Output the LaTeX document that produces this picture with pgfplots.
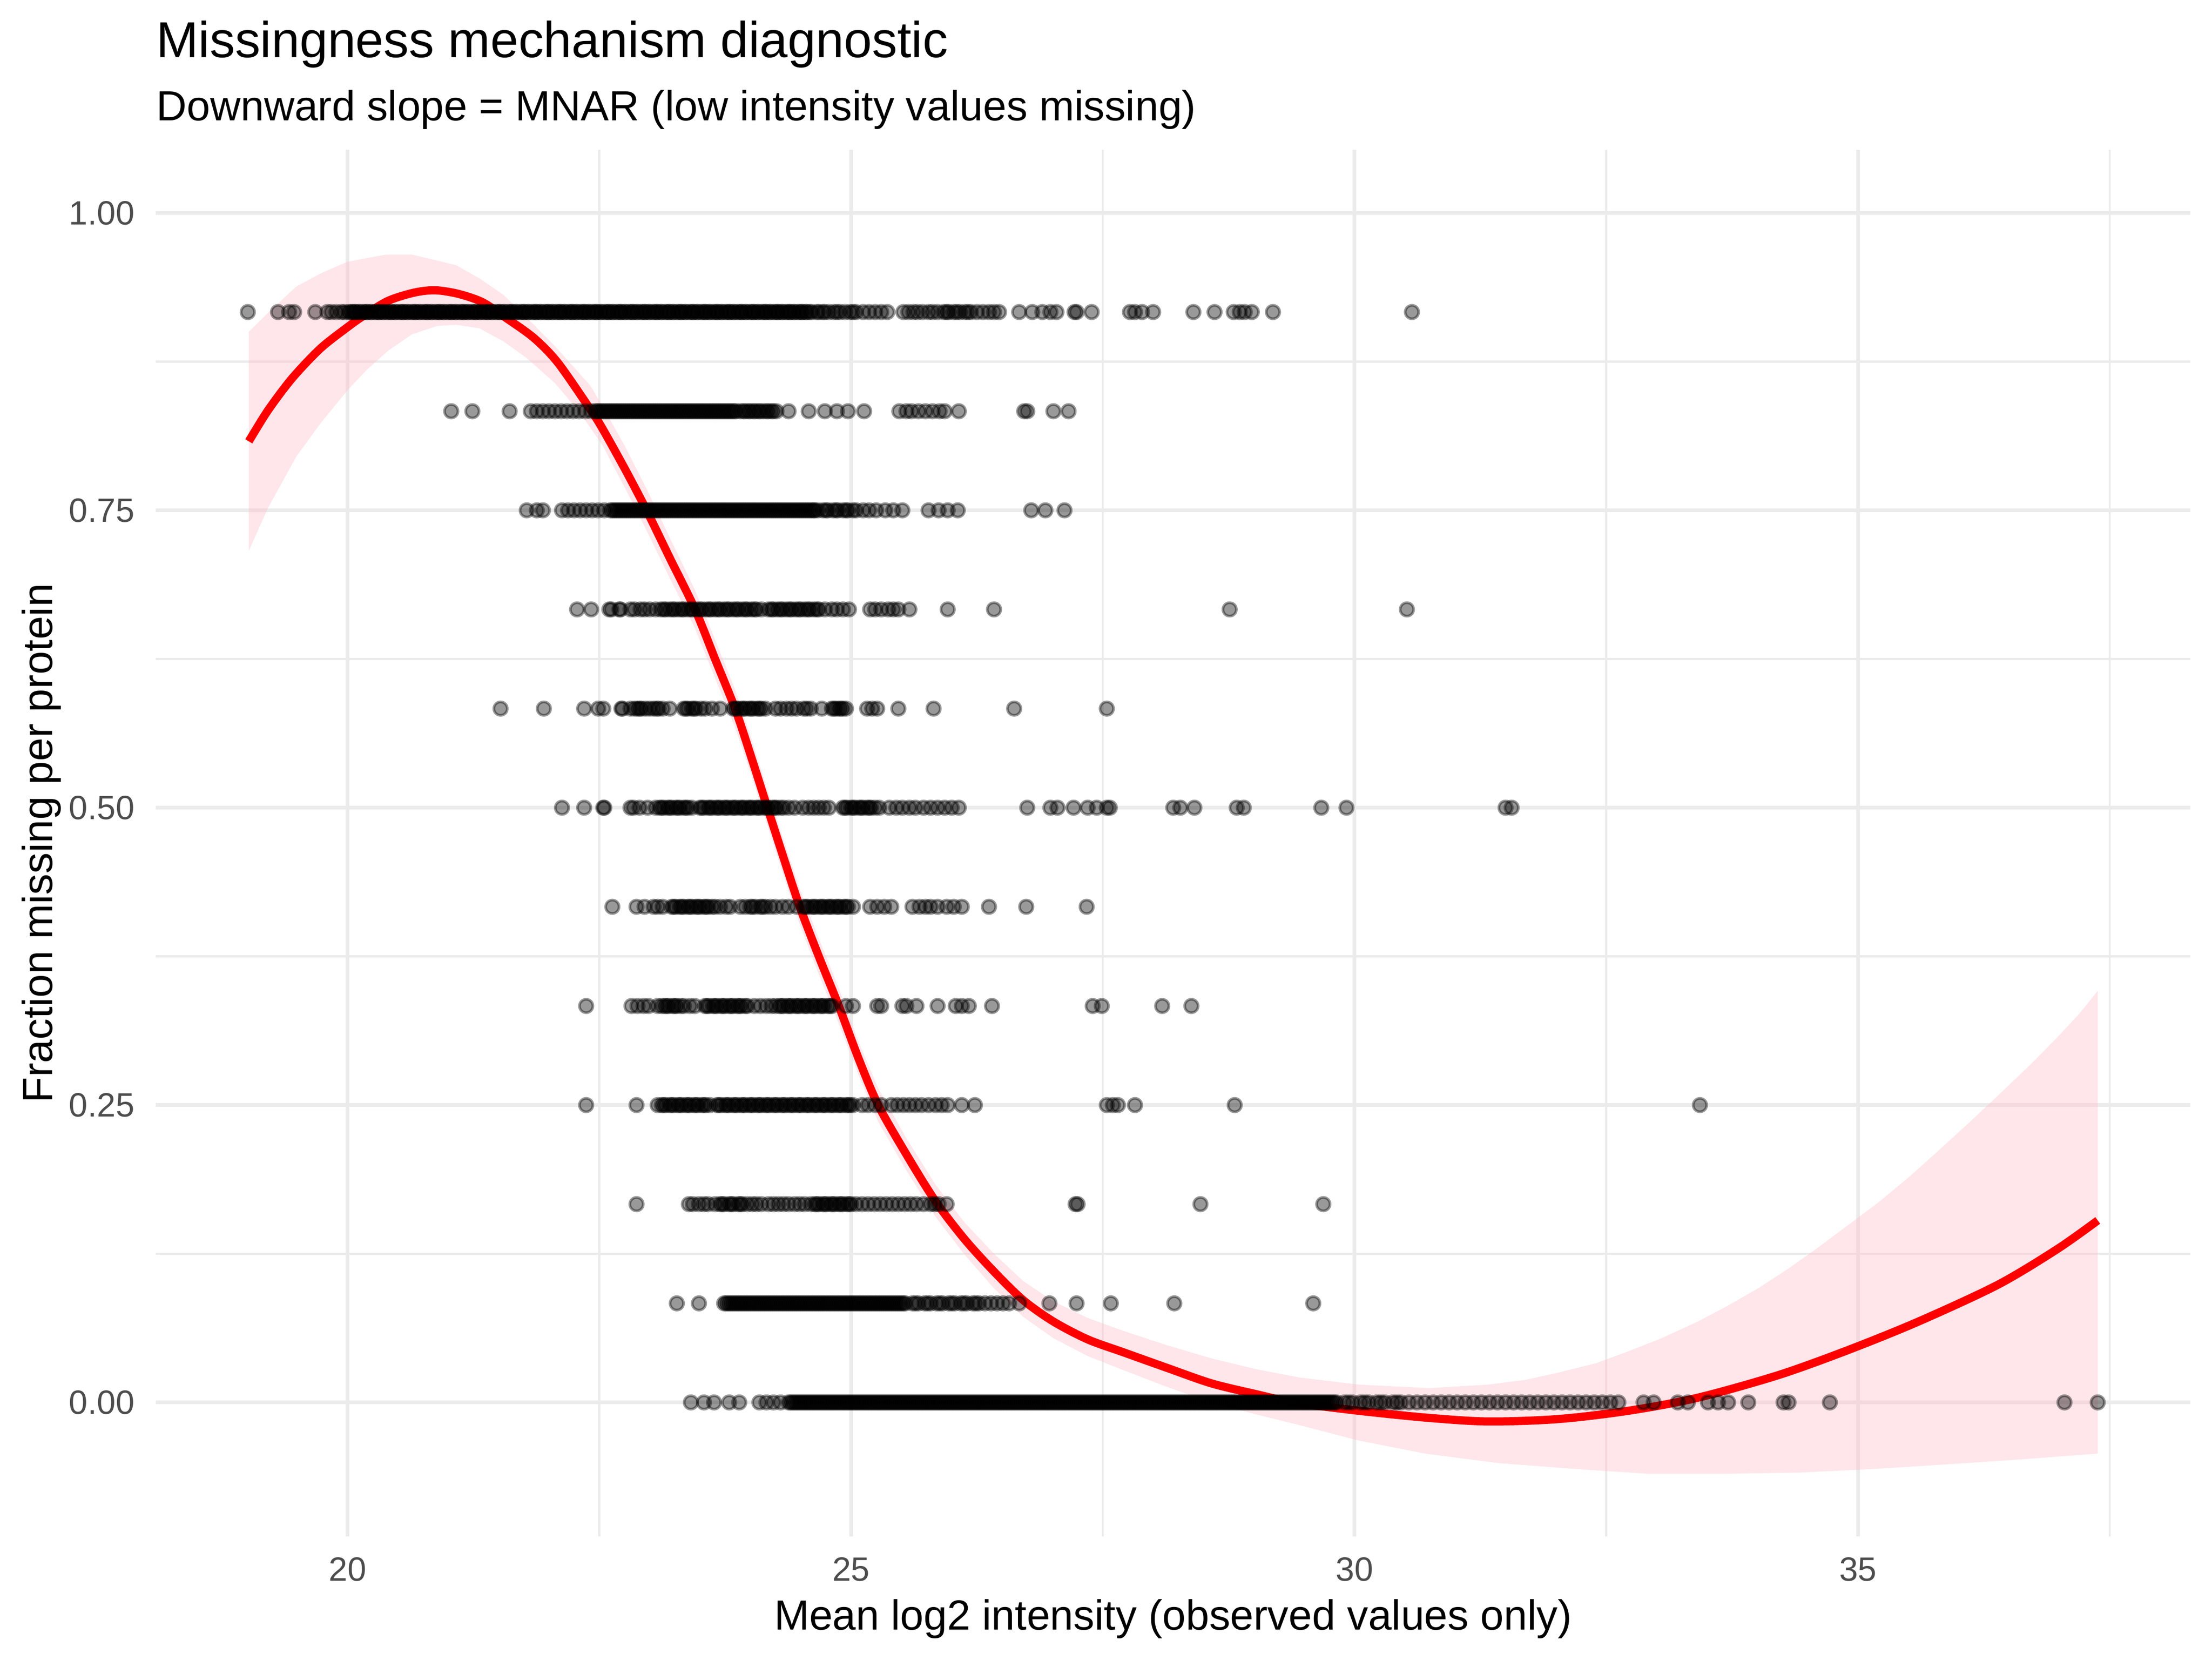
\documentclass[border=0pt]{standalone}
\usepackage{pgfplots}
\pgfplotsset{compat=1.18}
\usepackage{fontspec}
\setmainfont{Liberation Sans}
\definecolor{gridc}{RGB}{235,235,235}
\definecolor{tickc}{RGB}{77,77,77}
\definecolor{ribpink}{RGB}{255,192,203}
\pgfplotsset{pts/.style={only marks, mark=*, mark size=1.75bp,
  mark options={draw=black, fill=black, line width=0.7bp, draw opacity=0.4, fill opacity=0.4}}}
\begin{document}
\begin{tikzpicture}
\path[use as bounding box] (0,0) rectangle (576bp,432bp);
\begin{axis}[
  at={(40.56bp,32bp)}, anchor=south west,
  scale only axis, width=529.8bp, height=361bp,
  xmin=18.096, xmax=38.30, ymin=-0.1128, ymax=1.0531,
  axis line style={draw=none}, tick style={draw=none},
  major tick length=0pt, minor tick length=0pt,
  xtick={20,25,30,35}, xticklabels={20,25,30,35},
  minor xtick={22.5,27.5,32.5,37.5},
  ytick={0,0.25,0.5,0.75,1}, yticklabels={0.00,0.25,0.50,0.75,1.00},
  minor ytick={0.125,0.375,0.625,0.875},
  grid=both,
  major grid style={color=gridc, line width=1.0bp},
  minor grid style={color=gridc, line width=0.53bp},
  xticklabel style={anchor=north, inner sep=0pt, yshift=-5.2bp, font=\fontsize{8.8}{10}\selectfont, text=tickc},
  yticklabel style={anchor=east, inner sep=0pt, xshift=-5.3bp, font=\fontsize{8.8}{10}\selectfont, text=tickc},
]
% row 11/12
\addplot[pts] coordinates {(19.01,0.9167)(19.31,0.9167)(19.42,0.9167)(19.47,0.9167)(19.68,0.9167)(19.80,0.9167)(19.84,0.9167)(19.89,0.9167)(19.94,0.9167)(19.97,0.9167)
(20.01,0.9167)(20.05,0.9167)(20.08,0.9167)(20.12,0.9167)(20.17,0.9167)(20.20,0.9167)(20.24,0.9167)(20.29,0.9167)(20.32,0.9167)(20.36,0.9167)(20.41,0.9167)(20.44,0.9167)(20.48,0.9167)(20.53,0.9167)(20.56,0.9167)(20.60,0.9167)(20.65,0.9167)(20.68,0.9167)(20.72,0.9167)(20.77,0.9167)(20.80,0.9167)(20.84,0.9167)(20.89,0.9167)(20.92,0.9167)(20.96,0.9167)
(21.01,0.9167)(21.04,0.9167)(21.08,0.9167)(21.13,0.9167)(21.16,0.9167)(21.20,0.9167)(21.25,0.9167)(21.28,0.9167)(21.32,0.9167)(21.37,0.9167)(21.40,0.9167)(21.44,0.9167)(21.49,0.9167)(21.52,0.9167)(21.56,0.9167)(21.61,0.9167)(21.64,0.9167)(21.68,0.9167)(21.73,0.9167)(21.76,0.9167)(21.80,0.9167)(21.85,0.9167)(21.88,0.9167)(21.92,0.9167)(21.97,0.9167)
(22.00,0.9167)(22.04,0.9167)(22.09,0.9167)(22.12,0.9167)(22.16,0.9167)(22.21,0.9167)(22.24,0.9167)(22.28,0.9167)(22.33,0.9167)(22.36,0.9167)(22.40,0.9167)(22.45,0.9167)(22.48,0.9167)(22.52,0.9167)(22.57,0.9167)(22.60,0.9167)(22.64,0.9167)(22.69,0.9167)(22.72,0.9167)(22.76,0.9167)(22.81,0.9167)(22.84,0.9167)(22.88,0.9167)(22.93,0.9167)(22.96,0.9167)
(23.00,0.9167)(23.05,0.9167)(23.08,0.9167)(23.12,0.9167)(23.17,0.9167)(23.20,0.9167)(23.24,0.9167)(23.29,0.9167)(23.32,0.9167)(23.36,0.9167)(23.41,0.9167)(23.44,0.9167)(23.48,0.9167)(23.53,0.9167)(23.56,0.9167)(23.60,0.9167)(23.65,0.9167)(23.68,0.9167)(23.72,0.9167)(23.77,0.9167)(23.80,0.9167)(23.84,0.9167)(23.89,0.9167)(23.92,0.9167)(23.96,0.9167)
(24.01,0.9167)(24.04,0.9167)(24.08,0.9167)(24.13,0.9167)(24.16,0.9167)(24.20,0.9167)(24.25,0.9167)(24.28,0.9167)(24.32,0.9167)(24.37,0.9167)(24.40,0.9167)(24.44,0.9167)(24.49,0.9167)(24.52,0.9167)(24.56,0.9167)(24.61,0.9167)
(24.68,0.9167)(24.74,0.9167)(24.78,0.9167)(24.83,0.9167)(24.89,0.9167)(24.94,0.9167)(24.99,0.9167)(25.05,0.9167)(25.12,0.9167)(25.18,0.9167)(25.24,0.9167)(25.30,0.9167)(25.36,0.9167)
(25.52,0.9167)(25.57,0.9167)(25.62,0.9167)(25.66,0.9167)(25.71,0.9167)(25.77,0.9167)(25.81,0.9167)(25.86,0.9167)(25.92,0.9167)(25.97,0.9167)(26.02,0.9167)(26.08,0.9167)(26.13,0.9167)(26.19,0.9167)(26.25,0.9167)(26.31,0.9167)(26.37,0.9167)(26.42,0.9167)(26.47,0.9167)
(26.67,0.9167)(26.80,0.9167)(26.90,0.9167)(26.98,0.9167)(27.04,0.9167)(27.22,0.9167)(27.24,0.9167)(27.39,0.9167)(27.77,0.9167)(27.82,0.9167)(27.89,0.9167)(28.00,0.9167)(28.40,0.9167)(28.61,0.9167)(28.80,0.9167)(28.86,0.9167)(28.91,0.9167)(28.98,0.9167)(29.19,0.9167)(30.57,0.9167)};
\addplot[pts] coordinates {(20.03,0.9167)(20.07,0.9167)(20.11,0.9167)(20.15,0.9167)(20.19,0.9167)(20.23,0.9167)(20.27,0.9167)(20.31,0.9167)(20.35,0.9167)(20.39,0.9167)(20.43,0.9167)(20.47,0.9167)(20.51,0.9167)(20.55,0.9167)(20.59,0.9167)(20.63,0.9167)(20.67,0.9167)(20.71,0.9167)(20.75,0.9167)(20.79,0.9167)(20.83,0.9167)(20.87,0.9167)(20.91,0.9167)(20.95,0.9167)(20.99,0.9167)
(21.03,0.9167)(21.07,0.9167)(21.11,0.9167)(21.15,0.9167)(21.19,0.9167)(21.23,0.9167)(21.27,0.9167)(21.31,0.9167)(21.35,0.9167)(21.39,0.9167)(21.43,0.9167)(21.47,0.9167)(21.51,0.9167)(21.55,0.9167)(21.59,0.9167)(21.63,0.9167)(21.67,0.9167)(21.71,0.9167)(21.75,0.9167)(21.79,0.9167)(21.83,0.9167)(21.87,0.9167)(21.91,0.9167)(21.95,0.9167)(21.99,0.9167)
(22.03,0.9167)(22.07,0.9167)(22.11,0.9167)(22.15,0.9167)(22.19,0.9167)(22.23,0.9167)(22.27,0.9167)(22.31,0.9167)(22.35,0.9167)(22.39,0.9167)(22.43,0.9167)(22.47,0.9167)(22.51,0.9167)(22.55,0.9167)(22.59,0.9167)(22.63,0.9167)(22.67,0.9167)(22.71,0.9167)(22.75,0.9167)(22.79,0.9167)(22.83,0.9167)(22.87,0.9167)(22.91,0.9167)(22.95,0.9167)(22.99,0.9167)
(23.03,0.9167)(23.07,0.9167)(23.11,0.9167)(23.15,0.9167)(23.19,0.9167)(23.23,0.9167)(23.27,0.9167)(23.31,0.9167)(23.35,0.9167)(23.39,0.9167)(23.43,0.9167)(23.47,0.9167)(23.51,0.9167)(23.55,0.9167)(23.59,0.9167)(23.63,0.9167)(23.67,0.9167)(23.71,0.9167)(23.75,0.9167)(23.79,0.9167)(23.83,0.9167)(23.87,0.9167)(23.91,0.9167)(23.95,0.9167)(23.99,0.9167)
(24.03,0.9167)(24.07,0.9167)(24.11,0.9167)(24.15,0.9167)(24.19,0.9167)(24.23,0.9167)(24.27,0.9167)(24.31,0.9167)(24.35,0.9167)(24.39,0.9167)(24.43,0.9167)(24.47,0.9167)(24.51,0.9167)(24.55,0.9167)(24.59,0.9167)(24.66,0.9167)(24.72,0.9167)(24.86,0.9167)(25.02,0.9167)(25.95,0.9167)(26.05,0.9167)(26.16,0.9167)};
% row 10/12
\addplot[pts] coordinates {(21.03,0.8333)(21.24,0.8333)(21.61,0.8333)(21.82,0.8333)(21.88,0.8333)(21.94,0.8333)(22.00,0.8333)(22.06,0.8333)(22.12,0.8333)(22.18,0.8333)(22.24,0.8333)(22.30,0.8333)(22.36,0.8333)(22.42,0.8333)
(22.46,0.8333)(22.50,0.8333)(22.54,0.8333)(22.58,0.8333)(22.62,0.8333)(22.66,0.8333)(22.70,0.8333)(22.74,0.8333)(22.78,0.8333)(22.82,0.8333)(22.86,0.8333)(22.90,0.8333)(22.94,0.8333)(22.98,0.8333)(23.02,0.8333)(23.06,0.8333)(23.10,0.8333)(23.14,0.8333)(23.18,0.8333)(23.22,0.8333)(23.26,0.8333)(23.30,0.8333)(23.34,0.8333)(23.38,0.8333)(23.42,0.8333)(23.46,0.8333)(23.50,0.8333)(23.54,0.8333)(23.58,0.8333)(23.62,0.8333)(23.66,0.8333)(23.70,0.8333)(23.74,0.8333)(23.78,0.8333)(23.82,0.8333)(23.86,0.8333)
(23.90,0.8333)(23.95,0.8333)(24.00,0.8333)(24.05,0.8333)(24.10,0.8333)(24.16,0.8333)(24.21,0.8333)(24.26,0.8333)(24.38,0.8333)(24.58,0.8333)(24.74,0.8333)(24.86,0.8333)(24.97,0.8333)(25.13,0.8333)
(25.48,0.8333)(25.55,0.8333)(25.60,0.8333)(25.67,0.8333)(25.74,0.8333)(25.81,0.8333)(25.88,0.8333)(25.93,0.8333)(26.07,0.8333)(26.72,0.8333)(26.75,0.8333)(27.01,0.8333)(27.16,0.8333)};
\addplot[pts] coordinates {(22.48,0.8333)(22.52,0.8333)(22.56,0.8333)(22.60,0.8333)(22.64,0.8333)(22.68,0.8333)(22.72,0.8333)(22.76,0.8333)(22.80,0.8333)(22.84,0.8333)(22.88,0.8333)(22.92,0.8333)(22.96,0.8333)(23.00,0.8333)(23.04,0.8333)(23.08,0.8333)(23.12,0.8333)(23.16,0.8333)(23.20,0.8333)(23.24,0.8333)(23.28,0.8333)(23.32,0.8333)(23.36,0.8333)(23.40,0.8333)(23.44,0.8333)(23.48,0.8333)(23.52,0.8333)(23.56,0.8333)(23.60,0.8333)(23.64,0.8333)(23.68,0.8333)(23.72,0.8333)(23.76,0.8333)(23.80,0.8333)(23.84,0.8333)(23.93,0.8333)(23.98,0.8333)(24.03,0.8333)(24.08,0.8333)(24.13,0.8333)(24.18,0.8333)(24.23,0.8333)};
% row 9/12
\addplot[pts] coordinates {(21.78,0.75)(21.88,0.75)(21.94,0.75)(22.13,0.75)(22.19,0.75)(22.25,0.75)(22.31,0.75)(22.37,0.75)(22.43,0.75)(22.49,0.75)(22.55,0.75)
(22.61,0.75)(22.65,0.75)(22.69,0.75)(22.73,0.75)(22.77,0.75)(22.81,0.75)(22.85,0.75)(22.89,0.75)(22.93,0.75)(22.97,0.75)(23.01,0.75)(23.05,0.75)(23.09,0.75)(23.13,0.75)(23.17,0.75)(23.21,0.75)(23.25,0.75)(23.29,0.75)(23.33,0.75)(23.37,0.75)(23.41,0.75)(23.45,0.75)(23.49,0.75)(23.53,0.75)(23.57,0.75)(23.61,0.75)(23.65,0.75)(23.69,0.75)(23.73,0.75)(23.77,0.75)(23.81,0.75)(23.85,0.75)(23.89,0.75)(23.93,0.75)(23.97,0.75)
(24.01,0.75)(24.05,0.75)(24.09,0.75)(24.13,0.75)(24.17,0.75)(24.21,0.75)(24.25,0.75)(24.29,0.75)(24.33,0.75)(24.37,0.75)(24.41,0.75)(24.45,0.75)(24.49,0.75)(24.53,0.75)(24.57,0.75)(24.61,0.75)(24.64,0.75)
(24.67,0.75)(24.72,0.75)(24.77,0.75)(24.82,0.75)(24.87,0.75)(24.92,0.75)(24.97,0.75)(25.02,0.75)(25.05,0.75)(25.12,0.75)(25.18,0.75)(25.25,0.75)(25.34,0.75)(25.42,0.75)(25.51,0.75)
(25.77,0.75)(25.87,0.75)(25.96,0.75)(26.06,0.75)(26.79,0.75)(26.93,0.75)(27.12,0.75)};
\addplot[pts] coordinates {(22.63,0.75)(22.67,0.75)(22.71,0.75)(22.75,0.75)(22.79,0.75)(22.83,0.75)(22.87,0.75)(22.91,0.75)(22.95,0.75)(22.99,0.75)(23.03,0.75)(23.07,0.75)(23.11,0.75)(23.15,0.75)(23.19,0.75)(23.23,0.75)(23.27,0.75)(23.31,0.75)(23.35,0.75)(23.39,0.75)(23.43,0.75)(23.47,0.75)(23.51,0.75)(23.55,0.75)(23.59,0.75)(23.63,0.75)(23.67,0.75)(23.71,0.75)(23.75,0.75)(23.79,0.75)(23.83,0.75)(23.87,0.75)(23.91,0.75)(23.95,0.75)(23.99,0.75)
(24.03,0.75)(24.07,0.75)(24.11,0.75)(24.15,0.75)(24.19,0.75)(24.23,0.75)(24.27,0.75)(24.31,0.75)(24.35,0.75)(24.39,0.75)(24.43,0.75)(24.47,0.75)(24.51,0.75)(24.55,0.75)(24.59,0.75)(24.63,0.75)(24.75,0.75)(24.85,0.75)(24.95,0.75)};
% row 8/12
\addplot[pts] coordinates {(22.28,0.6667)(22.42,0.6667)(22.60,0.6667)(22.62,0.6667)(22.70,0.6667)(22.71,0.6667)(22.81,0.6667)(22.85,0.6667)(22.91,0.6667)(22.95,0.6667)(23.00,0.6667)(23.06,0.6667)
(23.11,0.6667)(23.16,0.6667)(23.20,0.6667)(23.25,0.6667)(23.29,0.6667)(23.34,0.6667)(23.38,0.6667)(23.43,0.6667)(23.47,0.6667)(23.52,0.6667)(23.56,0.6667)(23.61,0.6667)(23.65,0.6667)(23.70,0.6667)(23.74,0.6667)(23.79,0.6667)(23.83,0.6667)(23.88,0.6667)(23.92,0.6667)(23.97,0.6667)(24.01,0.6667)(24.06,0.6667)(24.11,0.6667)
(24.18,0.6667)(24.23,0.6667)(24.27,0.6667)(24.32,0.6667)(24.36,0.6667)(24.41,0.6667)(24.45,0.6667)(24.50,0.6667)(24.54,0.6667)(24.59,0.6667)(24.63,0.6667)(24.68,0.6667)(24.74,0.6667)
(24.81,0.6667)(24.86,0.6667)(24.92,0.6667)(24.98,0.6667)(25.19,0.6667)(25.24,0.6667)(25.30,0.6667)(25.37,0.6667)(25.42,0.6667)(25.47,0.6667)(25.58,0.6667)(25.96,0.6667)(26.42,0.6667)(28.76,0.6667)(30.52,0.6667)
(23.14,0.6667)(23.23,0.6667)(23.32,0.6667)(23.41,0.6667)(23.50,0.6667)(23.59,0.6667)(23.68,0.6667)(23.77,0.6667)(23.86,0.6667)(23.95,0.6667)(24.04,0.6667)(24.21,0.6667)(24.30,0.6667)(24.39,0.6667)(24.48,0.6667)(24.57,0.6667)(24.66,0.6667)};
% row 7/12
\addplot[pts] coordinates {(21.52,0.5833)(21.95,0.5833)(22.35,0.5833)(22.49,0.5833)(22.54,0.5833)(22.72,0.5833)(22.73,0.5833)(22.81,0.5833)(22.85,0.5833)(22.88,0.5833)(22.92,0.5833)(22.96,0.5833)(23.00,0.5833)(23.04,0.5833)(23.09,0.5833)(23.13,0.5833)(23.20,0.5833)
(23.34,0.5833)(23.38,0.5833)(23.42,0.5833)(23.46,0.5833)(23.51,0.5833)(23.55,0.5833)(23.62,0.5833)(23.70,0.5833)(23.83,0.5833)(23.87,0.5833)(23.91,0.5833)(23.95,0.5833)(23.99,0.5833)(24.03,0.5833)(24.07,0.5833)(24.11,0.5833)(24.15,0.5833)
(24.25,0.5833)(24.30,0.5833)(24.36,0.5833)(24.41,0.5833)(24.46,0.5833)(24.53,0.5833)(24.56,0.5833)(24.60,0.5833)(24.71,0.5833)(24.81,0.5833)(24.85,0.5833)(24.88,0.5833)(24.92,0.5833)(24.95,0.5833)
(25.16,0.5833)(25.21,0.5833)(25.26,0.5833)(25.47,0.5833)(25.82,0.5833)(26.62,0.5833)(27.54,0.5833)
(22.90,0.5833)(23.07,0.5833)(23.36,0.5833)(23.44,0.5833)(23.85,0.5833)(23.93,0.5833)(24.01,0.5833)(24.09,0.5833)(24.83,0.5833)(24.90,0.5833)};
% row 6/12
\addplot[pts] coordinates {(22.13,0.5)(22.35,0.5)(22.54,0.5)(22.55,0.5)(22.81,0.5)(22.84,0.5)(22.90,0.5)(22.98,0.5)
(23.06,0.5)(23.10,0.5)(23.14,0.5)(23.18,0.5)(23.22,0.5)(23.26,0.5)(23.30,0.5)(23.34,0.5)(23.38,0.5)(23.42,0.5)
(23.50,0.5)(23.54,0.5)(23.58,0.5)(23.62,0.5)(23.66,0.5)(23.70,0.5)(23.74,0.5)(23.78,0.5)(23.82,0.5)(23.86,0.5)(23.90,0.5)(23.94,0.5)(23.98,0.5)(24.02,0.5)(24.06,0.5)(24.10,0.5)(24.14,0.5)(24.18,0.5)(24.22,0.5)(24.26,0.5)(24.30,0.5)
(24.33,0.5)(24.38,0.5)(24.44,0.5)(24.52,0.5)(24.58,0.5)(24.63,0.5)(24.68,0.5)(24.73,0.5)(24.78,0.5)
(24.92,0.5)(24.96,0.5)(25.00,0.5)(25.04,0.5)(25.08,0.5)(25.12,0.5)(25.16,0.5)(25.20,0.5)(25.24,0.5)(25.28,0.5)
(25.38,0.5)(25.45,0.5)(25.51,0.5)(25.58,0.5)(25.64,0.5)(25.72,0.5)(25.79,0.5)(25.86,0.5)(25.93,0.5)(26.00,0.5)(26.07,0.5)
(26.75,0.5)(26.98,0.5)(27.05,0.5)(27.21,0.5)(27.35,0.5)(27.44,0.5)(27.54,0.5)(27.57,0.5)(28.20,0.5)(28.27,0.5)(28.41,0.5)(28.83,0.5)(28.90,0.5)(29.67,0.5)(29.92,0.5)(31.50,0.5)(31.56,0.5)
(23.12,0.5)(23.20,0.5)(23.28,0.5)(23.36,0.5)(23.52,0.5)(23.60,0.5)(23.68,0.5)(23.76,0.5)(23.84,0.5)(23.92,0.5)(24.00,0.5)(24.08,0.5)(24.16,0.5)(24.24,0.5)(24.94,0.5)(25.02,0.5)(25.10,0.5)(25.18,0.5)};
% row 5/12
\addplot[pts] coordinates {(22.63,0.4167)(22.87,0.4167)(22.95,0.4167)(23.04,0.4167)(23.08,0.4167)(23.13,0.4167)
(23.22,0.4167)(23.26,0.4167)(23.30,0.4167)(23.34,0.4167)(23.38,0.4167)(23.42,0.4167)(23.46,0.4167)(23.50,0.4167)(23.54,0.4167)(23.58,0.4167)(23.62,0.4167)(23.65,0.4167)
(23.70,0.4167)(23.76,0.4167)(23.80,0.4167)(23.90,0.4167)(23.95,0.4167)(24.00,0.4167)(24.05,0.4167)(24.10,0.4167)(24.15,0.4167)(24.20,0.4167)(24.25,0.4167)(24.32,0.4167)(24.38,0.4167)(24.46,0.4167)
(24.53,0.4167)(24.57,0.4167)(24.61,0.4167)(24.65,0.4167)(24.69,0.4167)(24.73,0.4167)(24.77,0.4167)(24.81,0.4167)(24.85,0.4167)(24.89,0.4167)(24.93,0.4167)(24.97,0.4167)(25.02,0.4167)
(25.19,0.4167)(25.26,0.4167)(25.33,0.4167)(25.40,0.4167)(25.61,0.4167)(25.68,0.4167)(25.74,0.4167)(25.79,0.4167)(25.86,0.4167)(25.95,0.4167)(26.02,0.4167)(26.10,0.4167)(26.37,0.4167)(26.74,0.4167)(27.34,0.4167)
(23.24,0.4167)(23.32,0.4167)(23.40,0.4167)(23.48,0.4167)(23.56,0.4167)(24.02,0.4167)(24.12,0.4167)(24.55,0.4167)(24.63,0.4167)(24.71,0.4167)(24.79,0.4167)(24.87,0.4167)(24.95,0.4167)};
% row 4/12
\addplot[pts] coordinates {(22.37,0.3333)(22.82,0.3333)(22.88,0.3333)(22.94,0.3333)(22.99,0.3333)(23.08,0.3333)(23.12,0.3333)(23.15,0.3333)(23.19,0.3333)(23.23,0.3333)(23.27,0.3333)(23.31,0.3333)(23.34,0.3333)(23.40,0.3333)(23.45,0.3333)
(23.55,0.3333)(23.59,0.3333)(23.63,0.3333)(23.67,0.3333)(23.71,0.3333)(23.75,0.3333)(23.79,0.3333)(23.83,0.3333)(23.87,0.3333)(23.91,0.3333)(23.95,0.3333)(23.97,0.3333)
(24.04,0.3333)(24.10,0.3333)(24.16,0.3333)(24.21,0.3333)(24.25,0.3333)(24.29,0.3333)(24.33,0.3333)(24.37,0.3333)(24.41,0.3333)(24.45,0.3333)(24.49,0.3333)(24.53,0.3333)(24.57,0.3333)(24.61,0.3333)(24.65,0.3333)(24.69,0.3333)(24.73,0.3333)(24.77,0.3333)(24.81,0.3333)
(24.95,0.3333)(25.02,0.3333)(25.26,0.3333)(25.30,0.3333)(25.51,0.3333)(25.55,0.3333)(25.65,0.3333)(25.86,0.3333)(26.04,0.3333)(26.10,0.3333)(26.17,0.3333)(26.40,0.3333)(27.40,0.3333)(27.49,0.3333)(28.09,0.3333)(28.38,0.3333)
(23.17,0.3333)(23.25,0.3333)(23.57,0.3333)(23.65,0.3333)(23.73,0.3333)(23.81,0.3333)(23.89,0.3333)(24.31,0.3333)(24.39,0.3333)(24.47,0.3333)(24.55,0.3333)(24.63,0.3333)(24.71,0.3333)(24.79,0.3333)};
% row 3/12
\addplot[pts] coordinates {(22.37,0.25)(22.87,0.25)
(23.08,0.25)(23.12,0.25)(23.16,0.25)(23.20,0.25)(23.24,0.25)(23.28,0.25)(23.32,0.25)(23.36,0.25)(23.40,0.25)(23.44,0.25)(23.48,0.25)(23.52,0.25)(23.56,0.25)(23.60,0.25)
(23.67,0.25)(23.71,0.25)(23.75,0.25)(23.79,0.25)(23.83,0.25)(23.87,0.25)(23.91,0.25)(23.95,0.25)(23.99,0.25)(24.03,0.25)(24.07,0.25)(24.11,0.25)(24.15,0.25)(24.19,0.25)(24.23,0.25)(24.27,0.25)(24.31,0.25)(24.35,0.25)(24.39,0.25)(24.43,0.25)(24.47,0.25)(24.51,0.25)(24.55,0.25)(24.59,0.25)(24.63,0.25)(24.67,0.25)(24.71,0.25)(24.75,0.25)(24.79,0.25)(24.83,0.25)(24.87,0.25)(24.91,0.25)(24.95,0.25)(24.99,0.25)(25.02,0.25)
(25.11,0.25)(25.17,0.25)(25.24,0.25)(25.30,0.25)(25.40,0.25)(25.46,0.25)(25.52,0.25)(25.58,0.25)(25.64,0.25)(25.70,0.25)(25.77,0.25)(25.84,0.25)(25.90,0.25)(25.96,0.25)
(26.10,0.25)(26.23,0.25)(27.54,0.25)(27.60,0.25)(27.65,0.25)(27.82,0.25)(28.81,0.25)(33.43,0.25)
(23.14,0.25)(23.22,0.25)(23.30,0.25)(23.38,0.25)(23.46,0.25)(23.54,0.25)(23.69,0.25)(23.77,0.25)(23.85,0.25)(23.93,0.25)(24.01,0.25)(24.09,0.25)(24.17,0.25)(24.25,0.25)(24.33,0.25)(24.41,0.25)(24.49,0.25)(24.57,0.25)(24.65,0.25)(24.73,0.25)(24.81,0.25)(24.89,0.25)(24.97,0.25)};
% row 2/12
\addplot[pts] coordinates {(22.87,0.1667)(23.39,0.1667)(23.43,0.1667)(23.49,0.1667)(23.54,0.1667)(23.58,0.1667)
(23.65,0.1667)(23.70,0.1667)(23.74,0.1667)(23.79,0.1667)(23.83,0.1667)(23.88,0.1667)(23.92,0.1667)(23.97,0.1667)(24.02,0.1667)(24.06,0.1667)(24.11,0.1667)
(24.18,0.1667)(24.23,0.1667)(24.28,0.1667)(24.33,0.1667)(24.38,0.1667)(24.44,0.1667)(24.49,0.1667)(24.54,0.1667)(24.60,0.1667)
(24.64,0.1667)(24.68,0.1667)(24.72,0.1667)(24.76,0.1667)(24.80,0.1667)(24.84,0.1667)(24.88,0.1667)(24.92,0.1667)(24.96,0.1667)(25.00,0.1667)
(25.05,0.1667)(25.11,0.1667)(25.17,0.1667)(25.23,0.1667)(25.29,0.1667)(25.35,0.1667)(25.41,0.1667)(25.47,0.1667)(25.53,0.1667)(25.59,0.1667)(25.65,0.1667)(25.72,0.1667)(25.79,0.1667)
(25.83,0.1667)(25.87,0.1667)(25.95,0.1667)(27.23,0.1667)(27.25,0.1667)(28.47,0.1667)(29.69,0.1667)
(23.72,0.1667)(23.81,0.1667)(23.90,0.1667)(24.66,0.1667)(24.74,0.1667)(24.82,0.1667)(24.90,0.1667)(24.98,0.1667)};
% row 1/12
\addplot[pts] coordinates {(23.27,0.0833)(23.49,0.0833)
(23.74,0.0833)(23.78,0.0833)(23.82,0.0833)(23.86,0.0833)(23.90,0.0833)(23.94,0.0833)(23.98,0.0833)(24.02,0.0833)(24.06,0.0833)(24.10,0.0833)(24.14,0.0833)(24.18,0.0833)(24.22,0.0833)(24.26,0.0833)(24.30,0.0833)(24.34,0.0833)(24.38,0.0833)(24.42,0.0833)(24.46,0.0833)(24.50,0.0833)(24.54,0.0833)(24.58,0.0833)(24.62,0.0833)(24.66,0.0833)(24.70,0.0833)(24.74,0.0833)(24.78,0.0833)(24.82,0.0833)(24.86,0.0833)(24.90,0.0833)(24.94,0.0833)(24.98,0.0833)
(25.02,0.0833)(25.06,0.0833)(25.10,0.0833)(25.14,0.0833)(25.18,0.0833)(25.22,0.0833)(25.26,0.0833)(25.30,0.0833)(25.34,0.0833)(25.38,0.0833)(25.42,0.0833)(25.46,0.0833)(25.50,0.0833)(25.54,0.0833)
(25.61,0.0833)(25.67,0.0833)(25.73,0.0833)(25.79,0.0833)(25.85,0.0833)(25.91,0.0833)(25.97,0.0833)(26.03,0.0833)(26.09,0.0833)(26.15,0.0833)(26.21,0.0833)(26.27,0.0833)(26.33,0.0833)(26.39,0.0833)(26.45,0.0833)(26.51,0.0833)(26.57,0.0833)
(26.67,0.0833)(26.97,0.0833)(27.24,0.0833)(27.58,0.0833)(28.21,0.0833)(29.59,0.0833)};
\addplot[pts] coordinates {(23.76,0.0833)(23.80,0.0833)(23.84,0.0833)(23.88,0.0833)(23.92,0.0833)(23.96,0.0833)(24.00,0.0833)(24.04,0.0833)(24.08,0.0833)(24.12,0.0833)(24.16,0.0833)(24.20,0.0833)(24.24,0.0833)(24.28,0.0833)(24.32,0.0833)(24.36,0.0833)(24.40,0.0833)(24.44,0.0833)(24.48,0.0833)(24.52,0.0833)(24.56,0.0833)(24.60,0.0833)(24.64,0.0833)(24.68,0.0833)(24.72,0.0833)(24.76,0.0833)(24.80,0.0833)(24.84,0.0833)(24.88,0.0833)(24.92,0.0833)(24.96,0.0833)
(25.00,0.0833)(25.04,0.0833)(25.08,0.0833)(25.12,0.0833)(25.16,0.0833)(25.20,0.0833)(25.24,0.0833)(25.28,0.0833)(25.32,0.0833)(25.36,0.0833)(25.40,0.0833)(25.44,0.0833)(25.48,0.0833)(25.52,0.0833)(25.64,0.0833)(25.76,0.0833)(25.88,0.0833)(26.00,0.0833)(26.12,0.0833)(26.24,0.0833)};
% row 0
\addplot[pts] coordinates {(23.41,0)(23.54,0)(23.64,0)(23.79,0)(23.89,0)(24.09,0)(24.16,0)(24.23,0)(24.30,0)
(24.38,0)(24.42,0)(24.46,0)(24.50,0)(24.54,0)(24.58,0)(24.62,0)(24.66,0)(24.70,0)(24.74,0)(24.78,0)(24.82,0)(24.86,0)(24.90,0)(24.94,0)(24.98,0)
(25.02,0)(25.06,0)(25.10,0)(25.14,0)(25.18,0)(25.22,0)(25.26,0)(25.30,0)(25.34,0)(25.38,0)(25.42,0)(25.46,0)(25.50,0)(25.54,0)(25.58,0)(25.62,0)(25.66,0)(25.70,0)(25.74,0)(25.78,0)(25.82,0)(25.86,0)(25.90,0)(25.94,0)(25.98,0)
(26.02,0)(26.06,0)(26.10,0)(26.14,0)(26.18,0)(26.22,0)(26.26,0)(26.30,0)(26.34,0)(26.38,0)(26.42,0)(26.46,0)(26.50,0)(26.54,0)(26.58,0)(26.62,0)(26.66,0)(26.70,0)(26.74,0)(26.78,0)(26.82,0)(26.86,0)(26.90,0)(26.94,0)(26.98,0)
(27.02,0)(27.06,0)(27.10,0)(27.14,0)(27.18,0)(27.22,0)(27.26,0)(27.30,0)(27.34,0)(27.38,0)(27.42,0)(27.46,0)(27.50,0)(27.54,0)(27.58,0)(27.62,0)(27.66,0)(27.70,0)(27.74,0)(27.78,0)(27.82,0)(27.86,0)(27.90,0)(27.94,0)(27.98,0)
(28.02,0)(28.06,0)(28.10,0)(28.14,0)(28.18,0)(28.22,0)(28.26,0)(28.30,0)(28.34,0)(28.38,0)(28.42,0)(28.46,0)(28.50,0)(28.54,0)(28.58,0)(28.62,0)(28.66,0)(28.70,0)(28.74,0)(28.78,0)(28.82,0)(28.86,0)(28.90,0)(28.94,0)(28.98,0)
(29.02,0)(29.06,0)(29.10,0)(29.14,0)(29.18,0)(29.22,0)(29.26,0)(29.30,0)(29.34,0)(29.38,0)(29.42,0)(29.46,0)(29.50,0)(29.54,0)(29.58,0)(29.62,0)(29.66,0)(29.70,0)(29.74,0)(29.78,0)(29.82,0)
(29.90,0)(29.98,0)(30.06,0)(30.14,0)(30.22,0)(30.30,0)(30.38,0)(30.46,0)(30.54,0)(30.62,0)(30.70,0)(30.78,0)(30.86,0)(30.94,0)(31.02,0)(31.10,0)(31.18,0)(31.26,0)(31.34,0)(31.42,0)(31.50,0)(31.58,0)(31.66,0)(31.74,0)(31.82,0)(31.90,0)(31.98,0)(32.06,0)(32.14,0)(32.22,0)(32.30,0)(32.38,0)(32.46,0)(32.54,0)(32.62,0)
(32.87,0)(32.97,0)(33.21,0)(33.31,0)(33.51,0)(33.61,0)(33.71,0)(33.91,0)(34.26,0)(34.31,0)(34.72,0)(37.05,0)(37.38,0)};
\addplot[pts] coordinates {(24.40,0)(24.44,0)(24.48,0)(24.52,0)(24.56,0)(24.60,0)(24.64,0)(24.68,0)(24.72,0)(24.76,0)(24.80,0)(24.84,0)(24.88,0)(24.92,0)(24.96,0)
(25.00,0)(25.04,0)(25.08,0)(25.12,0)(25.16,0)(25.20,0)(25.24,0)(25.28,0)(25.32,0)(25.36,0)(25.40,0)(25.44,0)(25.48,0)(25.52,0)(25.56,0)(25.60,0)(25.64,0)(25.68,0)(25.72,0)(25.76,0)(25.80,0)(25.84,0)(25.88,0)(25.92,0)(25.96,0)
(26.00,0)(26.04,0)(26.08,0)(26.12,0)(26.16,0)(26.20,0)(26.24,0)(26.28,0)(26.32,0)(26.36,0)(26.40,0)(26.44,0)(26.48,0)(26.52,0)(26.56,0)(26.60,0)(26.64,0)(26.68,0)(26.72,0)(26.76,0)(26.80,0)(26.84,0)(26.88,0)(26.92,0)(26.96,0)
(27.00,0)(27.04,0)(27.08,0)(27.12,0)(27.16,0)(27.20,0)(27.24,0)(27.28,0)(27.32,0)(27.36,0)(27.40,0)(27.44,0)(27.48,0)(27.52,0)(27.56,0)(27.60,0)(27.64,0)(27.68,0)(27.72,0)(27.76,0)(27.80,0)(27.84,0)(27.88,0)(27.92,0)(27.96,0)
(28.00,0)(28.04,0)(28.08,0)(28.12,0)(28.16,0)(28.20,0)(28.24,0)(28.28,0)(28.32,0)(28.36,0)(28.40,0)(28.44,0)(28.48,0)(28.52,0)(28.56,0)(28.60,0)(28.64,0)(28.68,0)(28.72,0)(28.76,0)(28.80,0)(28.84,0)(28.88,0)(28.92,0)(28.96,0)
(29.00,0)(29.04,0)(29.08,0)(29.12,0)(29.16,0)(29.20,0)(29.24,0)(29.28,0)(29.32,0)(29.36,0)(29.40,0)(29.44,0)(29.48,0)(29.52,0)(29.56,0)(29.60,0)(29.64,0)(29.68,0)(29.72,0)(29.76,0)(29.80,0)(29.94,0)(30.10,0)(30.26,0)(30.42,0)};
% confidence ribbon (upper edge, then lower edge back)
\addplot[draw=none, fill=ribpink, fill opacity=0.4] coordinates {
(19.02,0.900)(19.21,0.916)(19.49,0.938)(19.73,0.949)(20.00,0.959)(20.38,0.965)(20.64,0.965)(20.89,0.960)(21.08,0.956)(21.31,0.945)(21.55,0.931)(21.78,0.912)(22.06,0.888)(22.41,0.855)(22.53,0.838)(22.76,0.803)(22.97,0.768)(23.20,0.727)(23.45,0.683)(23.65,0.641)(23.85,0.599)(24.00,0.561)(24.17,0.515)(24.33,0.473)(24.49,0.432)(24.68,0.390)(24.88,0.348)(25.08,0.302)(25.27,0.264)(25.55,0.222)(25.84,0.183)(26.13,0.151)(26.42,0.125)(26.71,0.102)(27.01,0.085)(27.35,0.071)(27.71,0.060)(28.14,0.048)(28.58,0.037)(29.02,0.028)(29.45,0.021)(30.04,0.015)(30.74,0.012)(31.33,0.015)(31.70,0.019)(32.02,0.025)(32.40,0.033)(32.72,0.043)(33.05,0.054)(33.41,0.068)(33.70,0.081)(34.01,0.096)(34.30,0.112)(34.60,0.130)(34.90,0.149)(35.20,0.168)(35.50,0.189)(35.79,0.211)(36.10,0.235)(36.39,0.258)(36.70,0.283)(36.98,0.307)(37.20,0.327)(37.38,0.346)
(37.38,-0.043)(36.60,-0.048)(35.89,-0.052)(35.15,-0.056)(34.41,-0.059)(33.65,-0.060)(32.92,-0.060)(32.20,-0.056)(31.43,-0.051)(30.70,-0.043)(30.04,-0.032)(29.45,-0.019)(29.02,-0.010)(28.58,0.000)(28.14,0.013)(27.71,0.027)(27.35,0.039)(27.01,0.054)(26.71,0.072)(26.42,0.096)(26.13,0.124)(25.84,0.156)(25.55,0.195)(25.27,0.236)(25.08,0.274)(24.88,0.318)(24.68,0.360)(24.49,0.402)(24.33,0.443)(24.17,0.485)(24.00,0.530)(23.85,0.567)(23.65,0.609)(23.45,0.651)(23.20,0.693)(22.97,0.733)(22.76,0.768)(22.53,0.805)(22.30,0.833)(22.06,0.857)(21.78,0.878)(21.55,0.892)(21.31,0.903)(21.08,0.906)(20.89,0.905)(20.64,0.898)(20.40,0.884)(20.19,0.868)(20.00,0.851)(19.73,0.823)(19.49,0.795)(19.21,0.752)(19.02,0.716)} -- cycle;
% smooth fit
\addplot[color=red, line width=2.13bp, smooth, tension=0.5] coordinates {
(19.02,0.808)(19.21,0.834)(19.45,0.861)(19.73,0.886)(20.00,0.904)(20.15,0.913)(20.40,0.926)(20.66,0.933)(20.87,0.935)(21.10,0.932)(21.34,0.925)(21.57,0.912)(21.85,0.895)(22.09,0.874)(22.41,0.835)(22.53,0.819)(22.76,0.784)(22.97,0.750)(23.20,0.710)(23.45,0.667)(23.65,0.625)(23.85,0.583)(24.00,0.545)(24.17,0.500)(24.33,0.458)(24.49,0.417)(24.68,0.375)(24.88,0.333)(25.08,0.288)(25.27,0.250)(25.55,0.2085)(25.84,0.169)(26.13,0.137)(26.42,0.110)(26.71,0.086)(27.01,0.068)(27.35,0.053)(27.71,0.042)(28.14,0.029)(28.58,0.016)(29.02,0.007)(29.40,0.000)(30.04,-0.007)(30.74,-0.013)(31.33,-0.016)(32.02,-0.014)(32.72,-0.007)(33.41,0.004)(34.21,0.023)(34.90,0.044)(35.60,0.068)(36.39,0.099)(36.98,0.129)(37.38,0.153)};
\end{axis}
\node[anchor=base west, inner sep=0pt] at (40.56bp,417bp) {\fontsize{13.2}{15}\selectfont Missingness mechanism diagnostic};
\node[anchor=base west, inner sep=0pt] at (40.56bp,400.6bp) {\fontsize{11}{13}\selectfont Downward slope = MNAR (low intensity values missing)};
\node[anchor=base, inner sep=0pt] at (305.46bp,7.7bp) {\fontsize{11}{13}\selectfont Mean log2 intensity (observed values only)};
\node[anchor=base, inner sep=0pt, rotate=90] at (13.6bp,212.5bp) {\fontsize{11}{13}\selectfont Fraction missing per protein};
\end{tikzpicture}
\end{document}
